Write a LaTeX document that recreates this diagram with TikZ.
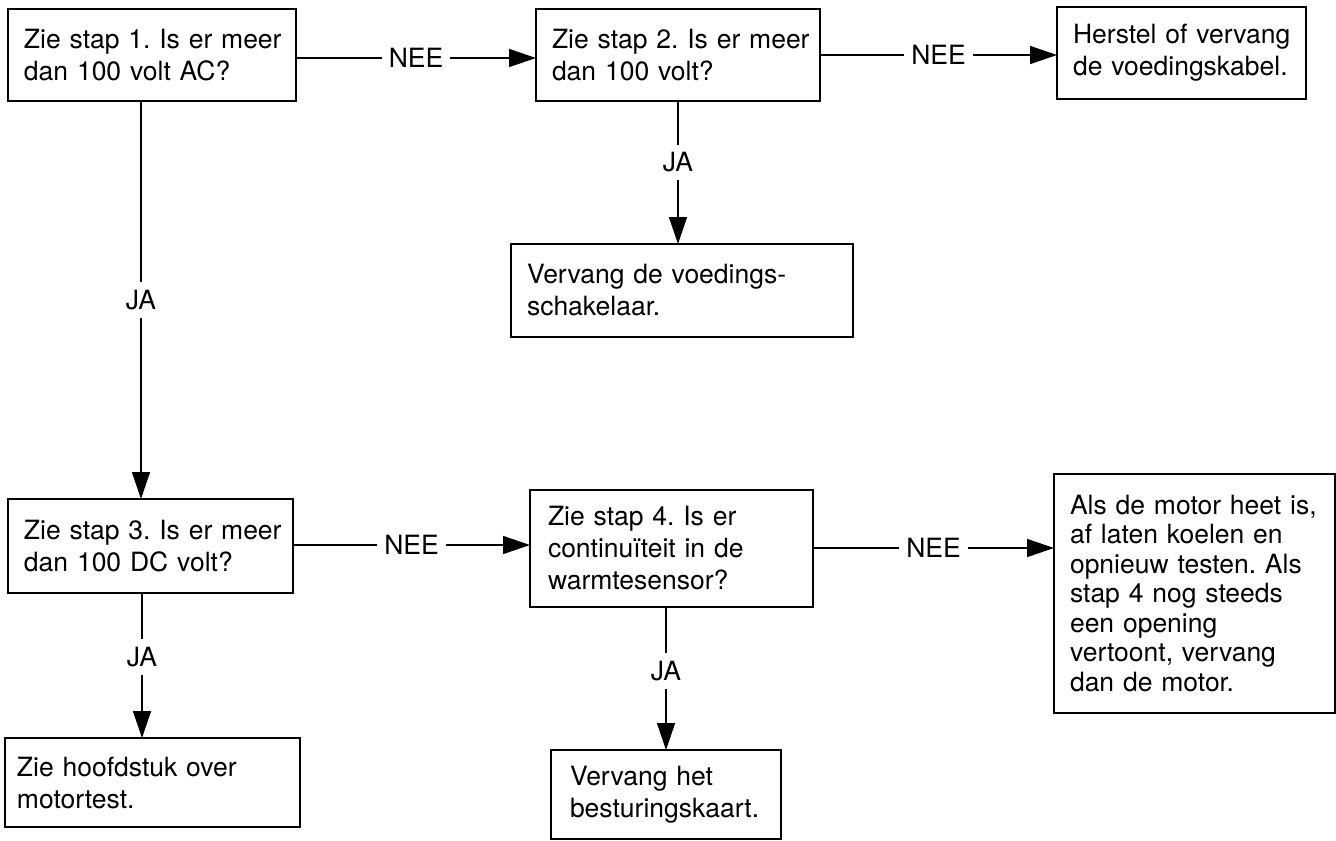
\documentclass[tikz,border=0pt]{standalone}
\usepackage{fontspec}
\setmainfont{TeX Gyre Heros}
\usepackage{calc}
\usetikzlibrary{arrows.meta}
\newcommand{\fs}{\fontsize{13.25pt}{16pt}\selectfont\frenchspacing}
\newcommand{\fsh}{\fontsize{13.25pt}{14.75pt}\selectfont\frenchspacing}
\begin{document}
\begin{tikzpicture}[x=0.5pt,y=-0.5pt,
  box/.style={draw, line width=1pt, anchor=north west, inner ysep=0pt, outer sep=0pt, align=left, font=\fs},
  conn/.style={line width=0.75pt, -{Triangle[length=13.5pt,width=9pt]}},
  lbl/.style={fill=white, inner xsep=3.5pt, inner ysep=4pt, font=\fs}]
\useasboundingbox[fill=white] (0,0) rectangle (1336,840);

\node[box, minimum width=144pt, minimum height=46pt, text width=128pt, inner xsep=8pt] (A) at (8,9)
  {\mbox{Zie stap 1. Is er meer}\\dan 100 volt AC?};
\node[box, minimum width=142pt, minimum height=46pt, text width=126pt, inner xsep=8pt] (B) at (536,9)
  {\mbox{Zie stap 2. Is er meer}\\dan 100 volt?};
\node[box, minimum width=124.5pt, minimum height=46pt, text width=108.5pt, inner xsep=8pt] (C) at (1057,7)
  {\makebox[\widthof{de voedingskabel.}][s]{Herstel of vervang}\\de voedingskabel.};
\node[box, minimum width=171pt, minimum height=46.5pt, text width=155pt, inner xsep=8pt] (D) at (511,244)
  {Vervang de voedings-\\schakelaar.};
\node[box, minimum width=142.5pt, minimum height=47pt, text width=126.5pt, inner xsep=8pt] (E) at (8,499)
  {\mbox{Zie stap 3. Is er meer}\\dan 100 DC volt?};
\node[box, minimum width=141.5pt, minimum height=58.5pt, text width=123.5pt, inner xsep=9pt] (G) at (530,490)
  {Zie stap 4. Is er\\continuïteit in de\\warmtesensor?};
\node[box, font=\fsh, minimum width=140.5pt, minimum height=119.5pt, text width=124.5pt, inner xsep=8pt] (H) at (1054,474)
  {\mbox{Als de motor heet is,}\\af laten koelen en\\\mbox{opnieuw testen. Als}\\stap 4 nog steeds\\een opening\\vertoont, vervang\\dan de motor.\\[2pt]};
\node[box, minimum width=147.5pt, minimum height=44.5pt, text width=135.5pt, inner xsep=6pt] (F) at (5,738)
  {Zie hoofdstuk over\\motortest.};
\node[box, minimum width=115pt, minimum height=44.5pt, text width=96pt, inner xsep=9.5pt] (I) at (551,750)
  {Vervang het\\\mbox{besturingskaart.}};

\draw[conn] (A.east |- 0,58) -- node[lbl]{NEE} (B.west |- 0,58);
\draw[conn] (B.east |- 0,55) -- node[lbl]{NEE} (C.west |- 0,55);
\draw[conn] (B.south) -- node[lbl, pos=0.43]{JA} (D.north -| B.south);
\draw[conn] (A.south -| 141,0) -- node[lbl, pos=0.5]{JA} (E.north -| 141,0);
\draw[conn] (E.east |- 0,545) -- node[lbl]{NEE} (G.west |- 0,545);
\draw[conn] (G.east |- 0,548) -- node[lbl]{NEE} (H.west |- 0,548);
\draw[conn] (E.south -| 142,0) -- node[lbl, pos=0.44]{JA} (F.north -| 142,0);
\draw[conn] (G.south -| 666,0) -- node[lbl, pos=0.45]{JA} (I.north -| 666,0);
\end{tikzpicture}
\end{document}
